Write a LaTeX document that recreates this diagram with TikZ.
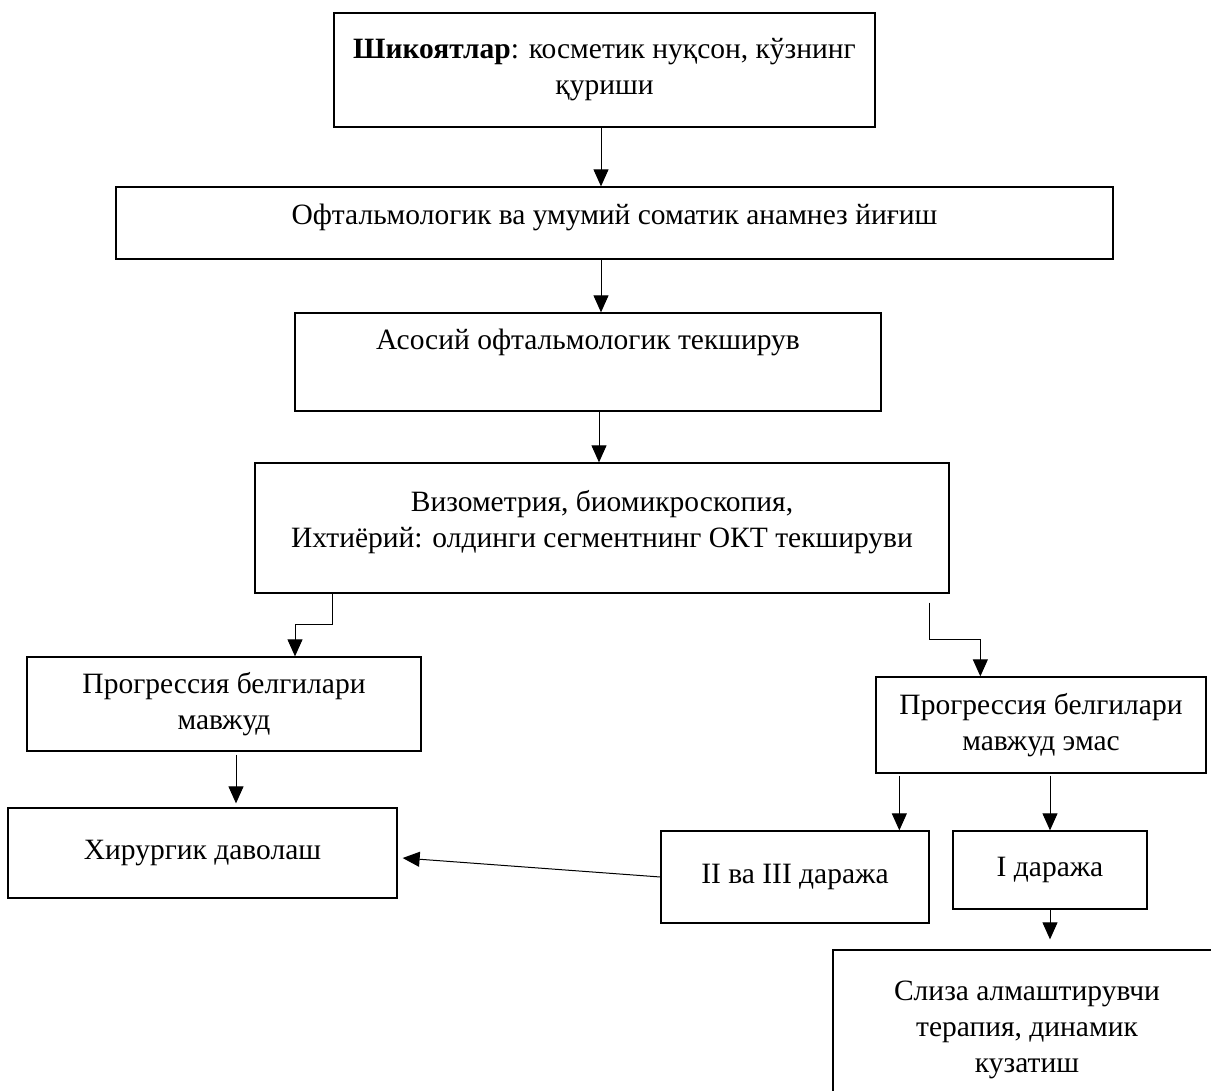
\documentclass[tikz,border=0pt]{standalone}
\usepackage{fontspec}
\setmainfont{Liberation Serif}
\usetikzlibrary{arrows.meta, positioning, calc}

\tikzset{
  box/.style={draw, line width=1.3pt, rectangle, align=center, inner sep=0pt,
    font=\fontsize{29.5}{36}\selectfont},
  arr/.style={-{Triangle[length=17pt, width=15pt]}, line width=1pt}
}

\begin{document}
\begin{tikzpicture}[x=1pt, y=-1pt]
    \useasboundingbox (0,0) rectangle (1211,1091);
    \clip (0,0) rectangle (1211,1091);

    % Main column
    \node[box, minimum width=541, minimum height=114] (compl) at (604.5,70)
        {\textbf{Шикоятлар}: косметик нуқсон, кўзнинг\\қуриши};
    \node[box, minimum width=997, minimum height=72, text depth=18pt] (anam) at (614.5,223)
        {Офтальмологик ва умумий соматик анамнез йиғиш};
    \node[box, minimum width=586, minimum height=98, text depth=45pt] (basic) at (588,362)
        {Асосий офтальмологик текширув};
    \node[box, minimum width=694, minimum height=130, text depth=18pt] (exam) at (602,528)
        {Визометрия, биомикроскопия,\\Ихтиёрий: олдинги сегментнинг ОКТ текшируви};

    % Branches
    \node[box, minimum width=394, minimum height=94] (yes) at (224,704)
        {Прогрессия белгилари\\мавжуд};
    \node[box, minimum width=330, minimum height=96] (no) at (1041,725)
        {Прогрессия белгилари\\мавжуд эмас};
    \node[box, minimum width=389, minimum height=90] (surg) at (202.5,853)
        {Хирургик даволаш};
    \node[box, minimum width=268, minimum height=92] (deg23) at (795,877)
        {II ва III даража};
    \node[box, minimum width=194, minimum height=78] (deg1) at (1050,870)
        {I даража};
    \node[box, minimum width=388, minimum height=160] (therapy) at (1027,1030)
        {Слиза алмаштирувчи\\терапия, динамик\\кузатиш};

    % Arrows
    \coordinate (axis) at (601,0);
    \draw[arr] (compl.south -| axis) -- (anam.north -| axis);
    \draw[arr] (anam.south -| axis) -- (basic.north -| axis);
    \draw[arr] ([xshift=-2pt]basic.south -| axis) -- ([xshift=-2pt]exam.north -| axis);
    \draw[arr] ([xshift=78pt]exam.south west) -- ++(0,31) -| ([xshift=71pt]yes.north);
    \draw[arr] ([xshift=-20pt, yshift=-9pt]exam.south east) -- ++(0,37) -| ([xshift=105pt]no.north west);
    \draw[arr] ([xshift=12pt, yshift=-3pt]yes.south) -- ([xshift=12pt, yshift=4pt]yes.south |- surg.north);
    \draw[arr] ([xshift=24pt, yshift=-2pt]no.south west) -- ([xshift=24pt]no.south west |- deg23.north);
    \draw[arr] ([yshift=-2pt]no.south -| deg1.north) -- (deg1.north);
    \draw[arr] (deg23.west) -- ([xshift=5pt, yshift=-5pt]surg.east);
    \draw[arr] (deg1.south) -- ([yshift=10pt]therapy.north -| deg1.south);
\end{tikzpicture}
\end{document}
